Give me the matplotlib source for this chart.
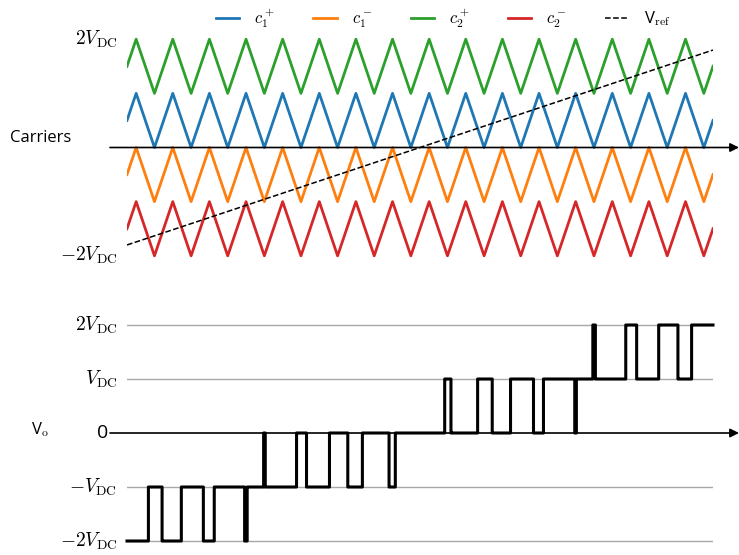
import numpy as np
import matplotlib
matplotlib.use("Agg")
import matplotlib.pyplot as plt

plt.rcParams['font.family'] = ['Open Sans', 'DejaVu Sans']
plt.rcParams['mathtext.fontset'] = 'cm'

# ---- data ----
n_periods = 16                      # carrier periods shown
carrier_names = ['$c_1^+$', '$c_1^-$', '$c_2^+$', '$c_2^-$']
carrier_lows = [0.0, -1.0, 1.0, -2.0]   # lower bound of each carrier band (in V_DC)
carrier_colors = ['#1f77b4', '#ff7f0e', '#2ca02c', '#d62728']
vref_start = -1.8
vref_end = 1.8
level_values = [2, 1, 0, -1, -2]
level_labels = [r'$2V_{\mathrm{DC}}$', r'$V_{\mathrm{DC}}$', '0', r'$-V_{\mathrm{DC}}$', r'$-2V_{\mathrm{DC}}$']

# triangle carrier vertices (mid-rising at t=0, peak at 0.25, trough at 0.75)
vt = np.concatenate([[0.0], np.arange(0.25, n_periods, 0.5), [float(n_periods)]])
vshape = np.concatenate([[0.5], np.tile([1.0, 0.0], n_periods), [0.5]])

def tri(t):
    u = np.mod(t - 0.25, 1.0)
    return np.abs(1 - 2 * u)

fig = plt.figure(figsize=(7.39, 5.55), dpi=100)
W, H = 739.0, 555.0
left = 127 / W
width = 586 / W
ax1 = fig.add_axes([left, 1 - 265 / H, width, 235 / H])
ax2 = fig.add_axes([left, 1 - 549.1 / H, width, 232.2 / H])

handles = []
for name, low, col in zip(carrier_names, carrier_lows, carrier_colors):
    h, = ax1.plot(vt, low + vshape, color=col, lw=2.0, label=name)
    handles.append(h)
hv, = ax1.plot([0, n_periods], [vref_start, vref_end], 'k--', lw=1.1, label=r'V$_{\mathrm{ref}}$')
handles.append(hv)

ax1.set_xlim(0, n_periods)
ax1.set_ylim(-2.17, 2.17)

# output voltage from carrier comparison
t = np.linspace(0, n_periods, 64001)
vref = vref_start + (vref_end - vref_start) * t / n_periods
vo = np.zeros_like(t) - 2
for low in carrier_lows:
    vo += (vref > low + tri(t)).astype(float)

for lv in [2, 1, -1, -2]:
    ax2.plot([0, n_periods], [lv, lv], color='#a8a8a8', lw=1.0, zorder=1)
ax2.plot(t, vo, color='k', lw=2.2, drawstyle='steps-post', zorder=3, clip_on=False)
ax2.set_xlim(0, n_periods)
ax2.set_ylim(-2.15, 2.15)

px = n_periods / 586.0
for ax in (ax1, ax2):
    for s in ax.spines.values():
        s.set_visible(False)
    ax.set_xticks([])
    ax.set_yticks([])
    ax.annotate('', xy=(n_periods + 26 * px, 0), xytext=(-17 * px, 0),
                arrowprops=dict(arrowstyle='-|>', color='k', lw=1.2, mutation_scale=13,
                                shrinkA=0, shrinkB=0),
                annotation_clip=False, zorder=2)

# tick-like labels
for ax, vals, labs in ((ax1, [2, -2], [level_labels[0], level_labels[4]]),
                       (ax2, level_values, level_labels)):
    for v, lab in zip(vals, labs):
        off = -13.5 if lab == '0' else -7
        ax.annotate(lab, xy=(0, v), xycoords=('axes fraction', 'data'),
                    xytext=(off, 0), textcoords='offset points',
                    ha='right', va='center', fontsize=14)

fig.text(10 / W, 1 - 138 / H, 'Carriers', fontsize=12, ha='left', va='center')
fig.text(31 / W, 1 - 430 / H, r'V$_{\mathrm{o}}$', fontsize=12, ha='left', va='center')

fig.legend(handles=handles, loc='center', bbox_to_anchor=(443 / W, 1 - 18 / H),
           ncol=5, frameon=False, fontsize=12, handlelength=1.4, handletextpad=0.9,
           columnspacing=2.3)

fig.savefig('out.png', dpi=100)
